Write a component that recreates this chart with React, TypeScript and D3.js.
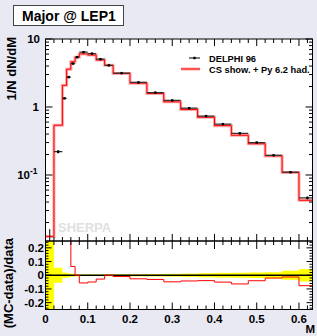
import * as d3 from 'd3';

// bin edges of the Major distribution
const binEdges = [0, 0.02, 0.04, 0.05, 0.06, 0.07, 0.08, 0.10, 0.12, 0.14, 0.16, 0.20, 0.24, 0.28, 0.32, 0.36, 0.40, 0.44, 0.48, 0.52, 0.56, 0.60, 0.64];
// DELPHI 96 data, 1/N dN/dM
const dataValues = [0.008, 0.22, 1.34, 2.75, 4.35, 5.4, 6.4, 6.1, 5.05, 4.1, 3.15, 2.3, 1.63, 1.25, 0.96, 0.735, 0.56, 0.41, 0.3, 0.195, 0.11, 0.046];
// relative data uncertainty
const dataRelErr = [1.0, 0.055, 0.02, 0.015, 0.01, 0.008, 0.006, 0.006, 0.006, 0.007, 0.007, 0.008, 0.009, 0.01, 0.012, 0.015, 0.017, 0.018, 0.02, 0.022, 0.033, 0.045];
// CS show. + Py 6.2 had.
const mcValues = [0.0125, 0.54, 2.08, 3.6, 4.63, 5.4, 6.04, 5.8, 4.91, 4.1, 3.12, 2.24, 1.58, 1.19, 0.92, 0.706, 0.532, 0.384, 0.288, 0.191, 0.1086, 0.0425];

const xTickValues = [0, 0.1, 0.2, 0.3, 0.4, 0.5, 0.6];
const ratioTickValues = [0.2, 0.1, 0, -0.1, -0.2];

const W = 317;
const H = 336;
const left = 45.5;
const right = 312.5;
const mainTop = 39;
const mainBottom = 241;
const ratioBottom = 309.5;
const font = '"Liberation Sans", Arial, Helvetica, sans-serif';

export default function App() {
  const x = d3.scaleLinear().domain([0, 0.632]).range([left, right]);
  const y = d3.scaleLog().domain([0.0107, 10]).range([mainBottom, mainTop]);
  const yr = d3.scaleLinear().domain([-0.25, 0.25]).range([ratioBottom, mainBottom]);

  const ratios = mcValues.map((m, i) => (m - dataValues[i]) / dataValues[i]);

  const stepPath = (vals: number[], sy: (v: number) => number) => {
    let p = `M${x(binEdges[0])},${sy(vals[0])}`;
    vals.forEach((v, i) => {
      if (i > 0) p += `V${sy(v)}`;
      p += `H${x(binEdges[i + 1])}`;
    });
    return p;
  };

  const xMinor = d3.range(0, 0.631, 0.02);
  const logTicks = y.ticks();
  const isMajorLog = (t: number) => Math.abs(Math.log10(t) - Math.round(Math.log10(t))) < 1e-6;
  const ratioMinor = d3.range(-0.24, 0.241, 0.02);

  const tickStyle = { stroke: '#000', strokeWidth: 1 };

  return (
    <svg width={W} height={H} style={{ position: 'absolute', left: 0, top: 0 }} fontFamily={font} fontWeight="bold">
      <defs>
        <clipPath id="clipMain">
          <rect x={left} y={mainTop} width={right - left} height={mainBottom - mainTop} />
        </clipPath>
        <clipPath id="clipRatio">
          <rect x={left} y={mainBottom} width={right - left} height={ratioBottom - mainBottom} />
        </clipPath>
      </defs>
      <rect x={0} y={0} width={W} height={H} fill="#e9e9f4" />

      {/* title box */}
      <rect x={13.5} y={5.5} width={110} height={20} fill="#fff" stroke="#444" strokeWidth={1} />
      <text x={22} y={21} fontSize={14} fill="#000">Major @ LEP1</text>

      {/* panels */}
      <rect x={left} y={mainTop} width={right - left} height={ratioBottom - mainTop} fill="#fff" />

      {/* main plot */}
      <text x={58} y={231.5} fontSize={13} fill="#e0e0e0">SHERPA</text>
      <g clipPath="url(#clipMain)">
        <path d={stepPath(mcValues, y)} fill="none" stroke="#ff0000" strokeOpacity={0.35} strokeWidth={3} />
        <path d={stepPath(mcValues, y)} fill="none" stroke="#ff0000" strokeWidth={1} />
        {dataValues.map((d, i) => {
          const cx = x((binEdges[i] + binEdges[i + 1]) / 2);
          return (
            <g key={i}>
              <line x1={x(binEdges[i])} x2={x(binEdges[i + 1])} y1={y(d)} y2={y(d)} stroke="#333" strokeWidth={1.2} />
              <line x1={cx} x2={cx} y1={y(d * (1 + dataRelErr[i]))} y2={y(Math.max(d * (1 - dataRelErr[i]), 1e-4))} stroke="#000" strokeWidth={1} />
              <rect x={cx - 1.2} y={y(d) - 1.2} width={2.4} height={2.4} fill="#000" />
            </g>
          );
        })}
      </g>

      {/* legend */}
      <line x1={189} x2={200} y1={58} y2={58} stroke="#000" strokeWidth={1} />
      <rect x={193.3} y={56.8} width={2.4} height={2.4} fill="#000" />
      <text x={209} y={61.5} fontSize={9.3} fill="#000">DELPHI 96</text>
      <line x1={181} x2={200} y1={69} y2={69} stroke="#ff0000" strokeOpacity={0.35} strokeWidth={3} />
      <line x1={181} x2={200} y1={69} y2={69} stroke="#ff0000" strokeWidth={1} />
      <text x={209} y={72.5} fontSize={9.3} fill="#000">CS show. + Py 6.2 had.</text>

      {/* ratio plot */}
      <g clipPath="url(#clipRatio)">
        {dataRelErr.map((e, i) => (
          <rect key={i} x={x(binEdges[i])} width={x(binEdges[i + 1]) - x(binEdges[i])} y={yr(e)} height={yr(-e) - yr(e)} fill="#ffff00" />
        ))}
        <line x1={left} x2={right} y1={yr(0)} y2={yr(0)} stroke="#000" strokeWidth={1.3} />
        <path d={stepPath(ratios, yr)} fill="none" stroke="#ff0000" strokeWidth={1} />
      </g>

      {/* frames */}
      <rect x={left} y={mainTop} width={right - left} height={mainBottom - mainTop} fill="none" stroke="#000" strokeWidth={1} />
      <rect x={left} y={mainBottom} width={right - left} height={ratioBottom - mainBottom} fill="none" stroke="#000" strokeWidth={1} />

      {/* x ticks */}
      {xMinor.map((t, i) => {
        const major = xTickValues.some(v => Math.abs(v - t) < 1e-6);
        const px = x(t);
        return (
          <g key={i}>
            <line x1={px} x2={px} y1={mainTop} y2={mainTop + (major ? 7 : 4)} {...tickStyle} />
            <line x1={px} x2={px} y1={mainBottom - (major ? 7 : 4)} y2={mainBottom + (major ? 8 : 4)} {...tickStyle} />
            <line x1={px} x2={px} y1={ratioBottom} y2={ratioBottom - (major ? 7 : 4)} {...tickStyle} />
          </g>
        );
      })}
      {xTickValues.map(t => (
        <text key={t} x={x(t)} y={322.5} fontSize={11.5} textAnchor="middle" fill="#000">{t === 0 ? '0' : t.toFixed(1)}</text>
      ))}
      <text x={315} y={332.5} fontSize={11.5} textAnchor="end" fill="#000">M</text>

      {/* log y ticks */}
      {logTicks.map((t, i) => {
        const major = isMajorLog(t);
        const py = y(t);
        return (
          <g key={i}>
            <line x1={left} x2={left + (major ? 7 : 3.5)} y1={py} y2={py} {...tickStyle} />
            <line x1={right} x2={right - (major ? 7 : 3.5)} y1={py} y2={py} {...tickStyle} />
          </g>
        );
      })}
      <text x={40} y={y(10) + 4} fontSize={11.5} textAnchor="end" fill="#000">10</text>
      <text x={39} y={y(1) + 4} fontSize={11.5} textAnchor="end" fill="#000">1</text>
      <text x={37.5} y={y(0.1) + 4} fontSize={11.5} textAnchor="end" fill="#000">
        10<tspan fontSize={8.5} dy={-5}>-1</tspan>
      </text>

      {/* ratio y ticks */}
      {ratioMinor.map((t, i) => {
        const major = Math.abs(t * 10 - Math.round(t * 10)) < 1e-6;
        const py = yr(t);
        return (
          <g key={i}>
            <line x1={left} x2={left + (major ? 6 : 3)} y1={py} y2={py} {...tickStyle} />
            <line x1={right} x2={right - (major ? 6 : 3)} y1={py} y2={py} {...tickStyle} />
          </g>
        );
      })}
      {ratioTickValues.map(t => (
        <text key={t} x={44} y={yr(t) + 4} fontSize={11.5} textAnchor="end" fill="#000">{t === 0 ? '0' : t.toFixed(1)}</text>
      ))}

      {/* axis titles */}
      <text transform="translate(16,37) rotate(-90)" fontSize={13} textAnchor="end" fill="#000">1/N dN/dM</text>
      <text transform="translate(13,238) rotate(-90)" fontSize={13} textAnchor="end" fill="#000">(MC-data)/data</text>
    </svg>
  );
}
